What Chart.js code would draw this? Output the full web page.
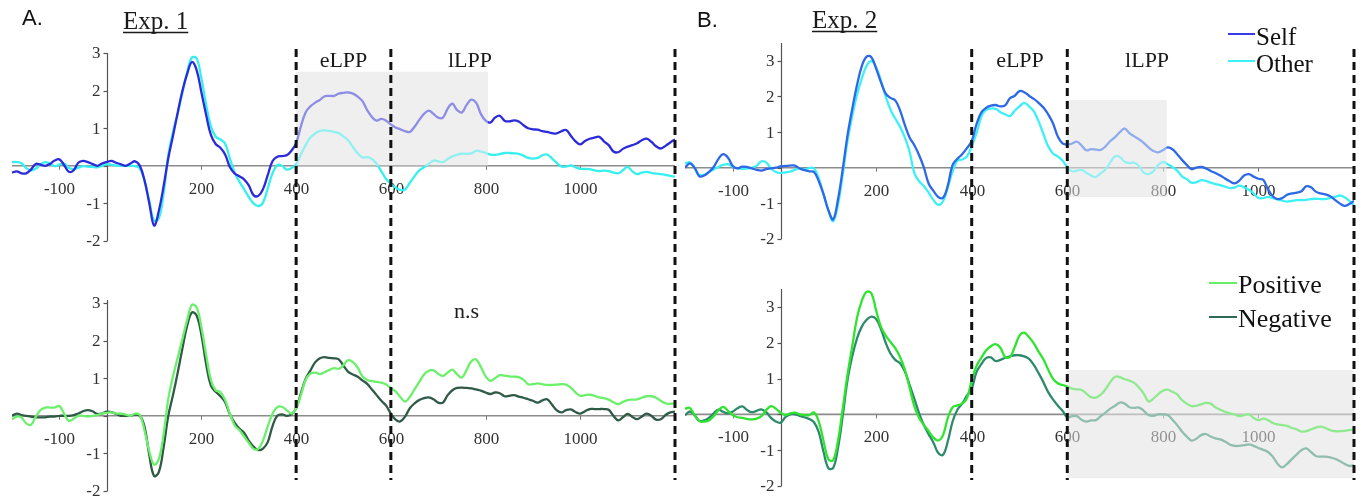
<!DOCTYPE html>
<html>
<head>
<meta charset="utf-8">
<script src="https://cdn.jsdelivr.net/npm/chart.js@4.4.1/dist/chart.umd.min.js"></script>
<style>
  html, body { margin: 0; padding: 0; background: #ffffff; overflow: hidden; }
  #wrap { position: relative; width: 1368px; height: 501px; }
  #wrap canvas { position: absolute; left: 0; top: 0; }
</style>
</head>
<body>
<div id="wrap">
  <canvas id="exp1Valence" width="1368" height="501"></canvas>
  <canvas id="exp2Valence" width="1368" height="501"></canvas>
  <canvas id="exp1Reference" width="1368" height="501"></canvas>
  <canvas id="exp2Reference" width="1368" height="501"></canvas>
</div>
<script>
// Grand-average ERP waveforms (µV), sampled every 10 ms from -200 to 1200 ms.
const sampleTimes = Array.from({ length: 141 }, (_, i) => -200 + i * 10);

// Exp. 1 — self vs. other
const exp1Self = [
  -0.18,-0.15,-0.2,-0.2,-0.1,0.05,0.03,0.0,0.05,0.14,
  0.17,0.02,-0.16,-0.12,0.08,0.13,0.1,0.05,0.0,0.06,
  0.1,0.13,0.08,0.04,0.0,0.06,0.12,0.0,-0.4,-1.0,
  -1.59,-1.2,-0.55,0.2,0.8,1.42,2.0,2.45,2.76,2.54,
  1.95,1.35,0.82,0.58,0.48,0.3,-0.03,-0.2,-0.28,-0.36,
  -0.52,-0.78,-0.8,-0.62,-0.25,0.12,0.24,0.26,0.28,0.4,
  0.6,1.05,1.42,1.58,1.68,1.75,1.85,1.86,1.86,1.92,
  1.94,1.95,1.92,1.84,1.72,1.48,1.3,1.2,1.25,1.2,
  1.1,1.02,0.97,0.92,0.9,1.04,1.22,1.38,1.47,1.38,
  1.28,1.28,1.52,1.65,1.48,1.42,1.62,1.76,1.68,1.38,
  1.2,1.15,1.28,1.33,1.2,1.18,1.21,1.18,1.08,1.0,
  0.97,0.96,0.92,0.9,0.87,0.86,0.92,0.95,0.8,0.65,
  0.57,0.66,0.72,0.75,0.77,0.65,0.55,0.38,0.36,0.45,
  0.51,0.55,0.6,0.68,0.72,0.64,0.52,0.46,0.53,0.62,
  0.7
];
const exp1Other = [
  0.1,0.1,0.07,-0.06,-0.12,-0.08,0.04,0.1,0.06,-0.01,
  0.03,0.06,-0.05,-0.09,-0.05,-0.01,-0.02,-0.03,-0.04,0.0,
  0.04,0.03,0.01,0.0,0.0,0.0,-0.01,-0.07,-0.4,-0.95,
  -1.45,-1.4,-0.75,0.28,0.9,1.4,1.95,2.5,2.88,2.85,
  2.32,1.62,1.05,0.78,0.7,0.59,0.2,-0.18,-0.42,-0.62,
  -0.83,-1.0,-1.07,-0.98,-0.6,-0.2,0.02,0.0,-0.1,-0.06,
  0.04,0.3,0.55,0.75,0.86,0.93,0.94,0.93,0.9,0.87,
  0.78,0.68,0.5,0.33,0.22,0.23,0.18,0.05,-0.15,-0.35,
  -0.48,-0.58,-0.64,-0.63,-0.45,-0.28,-0.12,-0.04,0.05,0.14,
  0.12,0.1,0.18,0.25,0.3,0.32,0.32,0.33,0.4,0.38,
  0.34,0.3,0.29,0.31,0.34,0.34,0.33,0.32,0.27,0.21,
  0.19,0.21,0.28,0.3,0.2,0.08,-0.02,-0.02,0.01,-0.04,
  -0.08,-0.08,-0.09,-0.12,-0.14,-0.13,-0.14,-0.18,-0.2,-0.12,
  -0.03,-0.15,-0.22,-0.18,-0.16,-0.19,-0.21,-0.22,-0.24,-0.27,
  -0.29
];

// Exp. 1 — positive vs. negative
const exp1Positive = [
  -0.09,-0.02,-0.05,-0.2,-0.24,-0.03,0.15,0.22,0.22,0.22,
  0.26,0.06,-0.14,-0.08,0.0,0.0,-0.02,0.0,0.02,0.06,
  0.08,0.09,0.06,0.06,0.03,0.0,0.06,0.02,-0.4,-0.95,
  -1.3,-1.15,-0.5,0.45,1.05,1.55,2.05,2.55,2.95,2.88,
  2.35,1.62,0.95,0.68,0.63,0.42,0.06,-0.25,-0.38,-0.55,
  -0.72,-0.88,-0.88,-0.66,-0.28,0.05,0.23,0.24,0.15,0.06,
  0.2,0.55,0.95,1.12,1.15,1.11,1.16,1.22,1.27,1.25,
  1.35,1.48,1.43,1.28,1.05,0.95,0.92,0.9,0.88,0.83,
  0.74,0.65,0.5,0.38,0.5,0.7,0.9,1.1,1.2,1.21,
  1.12,1.06,1.15,1.23,1.1,1.02,1.22,1.45,1.5,1.3,
  1.05,0.93,1.0,1.08,1.07,1.05,1.04,1.03,0.96,0.84,
  0.84,0.86,0.84,0.82,0.82,0.83,0.84,0.83,0.75,0.62,
  0.53,0.55,0.56,0.53,0.49,0.47,0.43,0.36,0.31,0.37,
  0.42,0.43,0.44,0.48,0.52,0.52,0.48,0.4,0.33,0.32,
  0.33
];
const exp1Negative = [
  0.0,0.06,0.02,0.0,-0.02,-0.04,-0.04,-0.04,-0.02,-0.02,
  0.0,0.0,0.0,0.02,0.06,0.12,0.15,0.12,0.05,0.06,
  0.11,0.1,0.05,0.0,0.0,0.0,0.03,0.0,-0.3,-1.05,
  -1.6,-1.5,-0.85,0.0,0.55,1.15,1.8,2.4,2.75,2.66,
  2.15,1.37,0.8,0.64,0.52,0.36,0.04,-0.18,-0.34,-0.45,
  -0.66,-0.82,-0.91,-0.87,-0.7,-0.28,0.0,0.04,0.0,0.04,
  0.2,0.6,0.98,1.2,1.42,1.53,1.56,1.54,1.53,1.5,
  1.33,1.17,1.1,1.04,0.94,0.85,0.7,0.55,0.4,0.27,
  0.06,-0.1,-0.15,-0.02,0.2,0.33,0.42,0.47,0.49,0.44,
  0.35,0.35,0.55,0.68,0.74,0.75,0.74,0.73,0.7,0.67,
  0.62,0.58,0.62,0.6,0.52,0.53,0.55,0.51,0.48,0.44,
  0.4,0.35,0.41,0.44,0.3,0.15,0.09,0.15,0.17,0.1,
  0.06,0.12,0.18,0.18,0.18,0.18,0.16,0.0,-0.12,-0.04,
  0.05,-0.03,-0.09,-0.02,0.06,0.0,-0.1,-0.09,0.02,0.09,
  0.11
];

// Exp. 2 — self vs. other
const exp2Self = [
  0.0,0.12,0.0,-0.24,-0.22,-0.12,0.02,0.25,0.38,0.28,
  0.05,-0.02,0.03,0.02,-0.02,-0.06,-0.08,-0.04,-0.02,0.0,
  0.04,0.05,0.06,0.06,-0.02,-0.07,-0.1,-0.12,-0.38,-0.75,
  -1.19,-1.45,-0.9,-0.05,0.9,1.65,2.32,2.85,3.12,3.1,
  2.78,2.4,2.08,1.96,1.89,1.61,1.2,0.85,0.63,0.35,
  0.0,-0.45,-0.65,-0.82,-0.84,-0.5,0.08,0.25,0.38,0.55,
  0.75,1.22,1.55,1.68,1.74,1.76,1.72,1.75,1.95,2.02,
  2.15,2.12,2.02,1.93,1.82,1.69,1.5,1.25,0.88,0.68,
  0.65,0.68,0.73,0.62,0.49,0.52,0.51,0.5,0.6,0.75,
  0.86,1.0,1.1,0.97,0.88,0.8,0.7,0.57,0.47,0.43,
  0.49,0.57,0.52,0.38,0.22,0.08,-0.04,0.0,0.02,-0.02,
  -0.09,-0.15,-0.22,-0.3,-0.38,-0.44,-0.36,-0.22,-0.18,-0.25,
  -0.31,-0.34,-0.6,-0.8,-0.88,-0.85,-0.76,-0.72,-0.7,-0.66,
  -0.52,-0.55,-0.67,-0.72,-0.75,-0.8,-0.9,-1.0,-1.07,-1.02,
  -0.93
];
const exp2Other = [
  0.12,0.15,0.0,-0.2,-0.2,-0.12,-0.05,0.02,0.08,0.1,
  0.03,-0.02,-0.03,-0.02,0.0,0.06,0.18,0.15,-0.02,-0.12,
  -0.15,-0.13,-0.11,-0.06,-0.02,-0.05,-0.01,-0.02,-0.3,-0.75,
  -1.19,-1.5,-1.05,-0.2,0.75,1.45,2.05,2.5,2.86,2.99,
  2.82,2.45,2.0,1.63,1.38,1.15,0.85,0.45,-0.15,-0.38,
  -0.52,-0.7,-0.91,-1.04,-0.94,-0.55,-0.1,0.2,0.23,0.32,
  0.6,0.97,1.43,1.62,1.66,1.65,1.56,1.5,1.45,1.6,
  1.72,1.82,1.72,1.58,1.3,0.95,0.6,0.4,0.32,0.2,
  0.02,-0.1,-0.08,-0.06,-0.14,-0.22,-0.26,-0.15,-0.05,0.15,
  0.32,0.3,0.17,0.13,0.14,0.05,-0.14,-0.18,-0.1,0.07,
  0.16,0.1,0.02,-0.08,-0.24,-0.32,-0.42,-0.41,-0.35,-0.37,
  -0.42,-0.46,-0.49,-0.53,-0.57,-0.56,-0.5,-0.55,-0.62,-0.72,
  -0.85,-0.85,-0.82,-0.85,-0.89,-0.92,-0.95,-0.93,-0.91,-0.91,
  -0.9,-0.88,-0.87,-0.88,-0.88,-0.85,-0.82,-0.78,-0.83,-0.93,
  -1.05
];

// Exp. 2 — positive vs. negative
const exp2Positive = [
  0.16,0.18,-0.02,-0.19,-0.2,-0.17,-0.05,0.12,0.21,0.1,
  -0.02,-0.08,-0.1,-0.13,-0.14,-0.12,-0.05,0.12,0.23,0.16,
  0.05,-0.02,0.03,0.05,0.0,-0.02,-0.02,0.05,-0.2,-0.75,
  -1.25,-1.28,-0.75,0.15,1.1,1.9,2.7,3.17,3.42,3.38,
  2.9,2.45,2.2,2.02,1.85,1.6,1.25,0.75,0.22,-0.1,
  -0.3,-0.47,-0.65,-0.73,-0.58,-0.1,0.2,0.25,0.3,0.45,
  0.95,1.35,1.58,1.78,1.9,1.96,1.86,1.6,1.6,1.88,
  2.2,2.28,2.15,1.98,1.75,1.54,1.25,1.0,0.87,0.82,
  0.78,0.72,0.7,0.68,0.58,0.48,0.47,0.55,0.7,0.9,
  1.05,1.04,0.98,0.94,0.88,0.75,0.58,0.36,0.44,0.56,
  0.66,0.69,0.63,0.56,0.4,0.3,0.23,0.24,0.28,0.32,
  0.3,0.2,0.13,0.07,0.03,0.0,-0.05,-0.02,0.0,-0.1,
  -0.16,-0.12,-0.16,-0.24,-0.28,-0.3,-0.32,-0.38,-0.42,-0.48,
  -0.47,-0.42,-0.37,-0.34,-0.38,-0.44,-0.47,-0.47,-0.46,-0.44,
  -0.42
];
const exp2Negative = [
  -0.03,0.08,-0.02,-0.18,-0.17,-0.1,0.03,0.13,0.07,0.03,
  0.08,0.17,0.22,0.12,0.06,0.1,0.14,0.06,-0.1,-0.2,
  -0.23,-0.08,0.0,0.0,-0.04,-0.08,-0.13,-0.22,-0.5,-1.05,
  -1.5,-1.5,-0.95,-0.05,0.95,1.62,2.12,2.45,2.64,2.73,
  2.66,2.38,2.0,1.7,1.52,1.43,1.2,0.82,0.43,0.03,
  -0.3,-0.56,-0.79,-1.08,-1.13,-0.75,-0.2,0.13,0.3,0.52,
  0.72,1.18,1.4,1.57,1.59,1.49,1.52,1.58,1.62,1.65,
  1.65,1.62,1.55,1.38,1.15,0.9,0.62,0.42,0.25,0.1,
  -0.08,-0.05,-0.05,-0.15,-0.2,-0.17,-0.16,-0.05,0.05,0.16,
  0.24,0.33,0.3,0.2,0.18,0.19,0.1,-0.02,-0.04,0.0,
  0.0,-0.02,-0.15,-0.3,-0.48,-0.62,-0.73,-0.68,-0.58,-0.55,
  -0.62,-0.67,-0.7,-0.76,-0.84,-0.88,-0.88,-0.86,-0.84,-0.88,
  -0.94,-0.99,-1.05,-1.18,-1.38,-1.48,-1.38,-1.25,-1.12,-1.0,
  -0.95,-1.05,-1.16,-1.18,-1.18,-1.2,-1.24,-1.3,-1.38,-1.44,
  -1.42
];

// Axis labelling and analysis windows (ms)
const xTickValues = [-100, 200, 400, 600, 800, 1000];
const yTickValues = [-2, -1, 1, 2, 3];
const yTickMarks = [-2, -1, 0, 1, 2, 3];
const windowBounds = [400, 600, 1200];

const SERIF = "'Liberation Serif', 'Times New Roman', serif";
const SANS = "'Liberation Sans', Arial, sans-serif";
const DASH = [8, 5];

// Decorations for one panel: axes, zero line, shaded window, window bounds, texts, legend
function makeDecor(p) {
  return {
    id: 'decor_' + p.canvas,
    beforeDatasetsDraw(chart) {
      const { ctx, scales: { x, y } } = chart;
      const zy = y.getPixelForValue(0);
      ctx.save();
      if (p.shade) {
        const s = p.shade;
        const x0 = x.getPixelForValue(s.t0), x1 = x.getPixelForValue(s.t1);
        const y0 = y.getPixelForValue(s.v1), y1 = y.getPixelForValue(s.v0);
        ctx.fillStyle = '#efefef';
        ctx.fillRect(x0, y0, x1 - x0, y1 - y0);
      }
      // zero line
      ctx.strokeStyle = '#8c8c8c';
      ctx.lineWidth = 1.6;
      ctx.beginPath();
      ctx.moveTo(x.getPixelForValue(-200), zy);
      ctx.lineTo(x.getPixelForValue(1200), zy);
      ctx.stroke();
      // x ticks and labels
      ctx.strokeStyle = '#777';
      ctx.lineWidth = 1;
      ctx.fillStyle = '#333';
      ctx.font = '17px ' + SERIF;
      ctx.textAlign = 'center';
      ctx.textBaseline = 'alphabetic';
      xTickValues.forEach(t => {
        const px = Math.round(x.getPixelForValue(t)) + 0.5;
        ctx.beginPath();
        ctx.moveTo(px, zy);
        ctx.lineTo(px, zy + 4);
        ctx.stroke();
        ctx.fillText(String(t), px, zy + 28);
      });
      // y axis
      const ax = Math.round(x.getPixelForValue(0)) + 0.5;
      ctx.strokeStyle = '#555';
      ctx.lineWidth = 1.2;
      ctx.beginPath();
      ctx.moveTo(ax, y.getPixelForValue(p.axisTop));
      ctx.lineTo(ax, y.getPixelForValue(-2));
      ctx.stroke();
      yTickMarks.forEach(v => {
        const py = Math.round(y.getPixelForValue(v)) + 0.5;
        ctx.beginPath();
        ctx.moveTo(ax - 4, py);
        ctx.lineTo(ax, py);
        ctx.stroke();
      });
      ctx.textAlign = 'right';
      ctx.textBaseline = 'middle';
      yTickValues.forEach(v => {
        ctx.fillText(String(v), ax - 7, y.getPixelForValue(v) + 1);
      });
      ctx.restore();
    },
    afterDatasetsDraw(chart) {
      const { ctx, scales: { x, y } } = chart;
      ctx.save();
      if (p.shade) {
        const s = p.shade;
        const x0 = x.getPixelForValue(s.t0), x1 = x.getPixelForValue(s.t1);
        const y0 = y.getPixelForValue(s.v1), y1 = y.getPixelForValue(s.v0);
        ctx.fillStyle = 'rgba(239,239,239,0.5)';
        ctx.fillRect(x0, y0, x1 - x0, y1 - y0);
      }
      // analysis-window bounds
      ctx.strokeStyle = '#111';
      ctx.lineWidth = 3;
      ctx.setLineDash(DASH);
      ctx.lineDashOffset = p.dashOffset;
      windowBounds.forEach(t => {
        const px = x.getPixelForValue(t);
        ctx.beginPath();
        ctx.moveTo(px, p.dashTop);
        ctx.lineTo(px, p.dashBottom);
        ctx.stroke();
      });
      ctx.setLineDash([]);
      // window names / annotations
      ctx.fillStyle = '#1a1a1a';
      ctx.textAlign = 'center';
      ctx.textBaseline = 'alphabetic';
      ctx.font = '22px ' + SERIF;
      (p.notes || []).forEach(n => ctx.fillText(n.text, x.getPixelForValue(n.t), n.baseline));
      // panel heading
      if (p.heading) {
        const h = p.heading;
        ctx.textAlign = 'left';
        ctx.font = '22px ' + SANS;
        ctx.fillStyle = '#111';
        ctx.fillText(h.letter, h.letterX, h.letterY);
        ctx.font = '25px ' + SERIF;
        ctx.fillStyle = '#1a1a1a';
        ctx.fillText(h.title, h.titleX, h.titleY);
        const w = ctx.measureText(h.title).width;
        ctx.strokeStyle = '#1a1a1a';
        ctx.lineWidth = 1.3;
        ctx.beginPath();
        ctx.moveTo(h.titleX, h.titleY + 3.5);
        ctx.lineTo(h.titleX + w, h.titleY + 3.5);
        ctx.stroke();
      }
      // legend
      if (p.legend) {
        const L = p.legend;
        ctx.font = L.font + 'px ' + SERIF;
        ctx.textAlign = 'left';
        ctx.textBaseline = 'alphabetic';
        chart.data.datasets.forEach((ds, i) => {
          const base = L.y + i * L.gap;
          ctx.strokeStyle = ds.legendColor || ds.borderColor;
          ctx.lineWidth = 2;
          ctx.beginPath();
          ctx.moveTo(L.x, base - L.lineRaise);
          ctx.lineTo(L.x + L.lineLen, base - L.lineRaise);
          ctx.stroke();
          ctx.fillStyle = '#111';
          ctx.fillText(ds.label, L.x + L.lineLen + 1, base);
        });
      }
      ctx.restore();
    }
  };
}

const panels = [
  {
    canvas: 'exp1Reference',
    pad: { left: 12, right: 693, top: 53, bottom: 260 },
    yMin: -2, yMax: 3, axisTop: 3,
    series: [
      { label: 'Self', data: exp1Self, color: '#2b2bdc' },
      { label: 'Other', data: exp1Other, color: '#36f0f0' }
    ],
    shade: { t0: 400, t1: 805, v0: 0, v1: 2.5 },
    dashTop: 49, dashBottom: 250, dashOffset: 0,
    notes: [{ text: 'eLPP', t: 500, baseline: 67 }, { text: 'lLPP', t: 767, baseline: 67 }],
    heading: { letter: 'A.', letterX: 22, letterY: 25, title: 'Exp. 1', titleX: 123, titleY: 29 }
  },
  {
    canvas: 'exp1Valence',
    pad: { left: 12, right: 693, top: 303, bottom: 10 },
    yMin: -2, yMax: 3, axisTop: 3.08,
    series: [
      { label: 'Positive', data: exp1Positive, color: '#6cf06c' },
      { label: 'Negative', data: exp1Negative, color: '#2f5a46' }
    ],
    dashTop: 250, dashBottom: 480, dashOffset: 6,
    notes: [{ text: 'n.s', t: 760, baseline: 318 }]
  },
  {
    canvas: 'exp2Reference',
    pad: { left: 685, right: 14, top: 43, bottom: 262 },
    yMin: -2, yMax: 3.5, axisTop: 3.5,
    series: [
      { label: 'Self', data: exp2Self, color: '#2d68e6', legendColor: '#3a3ae8' },
      { label: 'Other', data: exp2Other, color: '#3cf0f6' }
    ],
    shade: { t0: 600, t1: 808, v0: -0.82, v1: 1.9 },
    dashTop: 49, dashBottom: 250, dashOffset: 0,
    notes: [{ text: 'eLPP', t: 501, baseline: 67 }, { text: 'lLPP', t: 767, baseline: 67 }],
    heading: { letter: 'B.', letterX: 697, letterY: 27, title: 'Exp. 2', titleX: 812, titleY: 28 },
    legend: { x: 1228, y: 45, gap: 27, lineLen: 27, lineRaise: 11, font: 25 }
  },
  {
    canvas: 'exp2Valence',
    pad: { left: 685, right: 14, top: 289, bottom: 15 },
    yMin: -2, yMax: 3.5, axisTop: 3.5,
    series: [
      { label: 'Positive', data: exp2Positive, color: '#2ee42e', legendColor: '#66f066' },
      { label: 'Negative', data: exp2Negative, color: '#2e8a6c', legendColor: '#2f6a55' }
    ],
    shade: { t0: 600, t1: 1200, v0: -1.78, v1: 1.24 },
    dashTop: 250, dashBottom: 480, dashOffset: 6,
    legend: { x: 1209, y: 293, gap: 34, lineLen: 28, lineRaise: 10, font: 26 }
  }
];

panels.forEach(p => {
  new Chart(document.getElementById(p.canvas), {
    type: 'line',
    data: {
      labels: sampleTimes,
      datasets: p.series.map(s => ({
        label: s.label,
        data: s.data.map((v, i) => ({ x: sampleTimes[i], y: v })),
        borderColor: s.color,
        legendColor: s.legendColor,
        borderWidth: 2.3,
        pointRadius: 0,
        fill: false,
        tension: 0.4
      }))
    },
    options: {
      responsive: false,
      animation: false,
      devicePixelRatio: 1,
      events: [],
      layout: { padding: p.pad },
      plugins: { legend: { display: false }, tooltip: { enabled: false } },
      scales: {
        x: { type: 'linear', min: -200, max: 1200, display: false },
        y: { type: 'linear', min: p.yMin, max: p.yMax, display: false }
      }
    },
    plugins: [makeDecor(p)]
  });
});
</script>
</body>
</html>
